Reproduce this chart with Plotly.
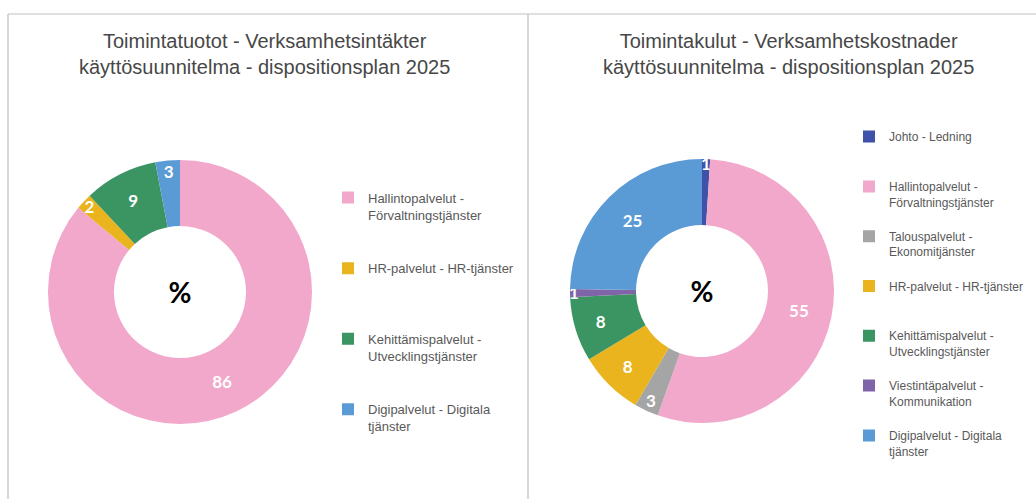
import plotly.graph_objects as go

# ---------------- data ----------------
left_title = "Toimintatuotot - Verksamhetsintäkter<br>käyttösuunnitelma - dispositionsplan 2025"
right_title = "Toimintakulut - Verksamhetskostnader<br>käyttösuunnitelma - dispositionsplan 2025"

left_labels = [
    "Hallintopalvelut -<br>Förvaltningstjänster",
    "HR-palvelut - HR-tjänster",
    "Kehittämispalvelut -<br>Utvecklingstjänster",
    "Digipalvelut - Digitala<br>tjänster",
]
left_values = [86, 2, 9, 3]
left_colors = ["#F2A8CB", "#E9B41E", "#3A9563", "#5B9BD5"]

right_labels = [
    "Johto - Ledning",
    "Hallintopalvelut -<br>Förvaltningstjänster",
    "Talouspalvelut -<br>Ekonomitjänster",
    "HR-palvelut - HR-tjänster",
    "Kehittämispalvelut -<br>Utvecklingstjänster",
    "Viestintäpalvelut -<br>Kommunikation",
    "Digipalvelut - Digitala<br>tjänster",
]
right_values = [1, 55, 3, 8, 8, 1, 25]
right_colors = ["#3F51A8", "#F2A8CB", "#A5A5A5", "#E9B41E", "#3A9563", "#8064A8", "#5B9BD5"]

W, H = 1036, 499


def pad(label, n):
    lines = label.count("<br>") + 1
    return label + "<br>\u00a0" * (n - lines)


def px_x(v):
    return v / W


def px_y(v):
    return 1 - v / H


fig = go.Figure()

label_font = dict(family="Lato", size=17, color="white", weight="bold")
center_font = dict(family="Lato", size=28, color="black", weight="bold")

fig.add_trace(go.Pie(
    labels=[pad(l, 4) for l in left_labels],
    values=left_values,
    marker=dict(colors=left_colors, line=dict(width=0)),
    hole=0.5,
    sort=False,
    direction="clockwise",
    rotation=0,
    texttemplate="%{value}",
    textposition="inside",
    insidetextorientation="horizontal",
    textfont=label_font,
    title=dict(text="%", position="middle center", font=center_font),
    domain=dict(x=[px_x(48), px_x(312)], y=[px_y(424), px_y(160)]),
    legend="legend",
    hoverinfo="label+value",
))

fig.add_trace(go.Pie(
    labels=[pad(l, 3) for l in right_labels],
    values=right_values,
    marker=dict(colors=right_colors, line=dict(width=0)),
    hole=0.5,
    sort=False,
    direction="clockwise",
    rotation=0,
    texttemplate="%{value}",
    textposition="inside",
    insidetextorientation="horizontal",
    textfont=label_font,
    title=dict(text="%", position="middle center", font=center_font),
    domain=dict(x=[px_x(570), px_x(834)], y=[px_y(423), px_y(159)]),
    legend="legend2",
    hoverinfo="label+value",
))

border = "#d6d6d6"
shapes = [
    dict(type="line", xref="paper", yref="paper", x0=px_x(8), x1=px_x(1036), y0=px_y(14), y1=px_y(14),
         line=dict(color=border, width=1.5)),
    dict(type="line", xref="paper", yref="paper", x0=px_x(8), x1=px_x(8), y0=px_y(14), y1=px_y(499),
         line=dict(color=border, width=2)),
    dict(type="line", xref="paper", yref="paper", x0=px_x(528), x1=px_x(528), y0=px_y(14), y1=px_y(499),
         line=dict(color=border, width=2)),
]

title_font = dict(family="Liberation Sans", size=20, color="#474747")
annotations = [
    dict(text=left_title, x=px_x(264), y=px_y(54), xref="paper", yref="paper", showarrow=False,
         xanchor="center", yanchor="middle", font=title_font, align="center"),
    dict(text=right_title, x=px_x(788), y=px_y(54), xref="paper", yref="paper", showarrow=False,
         xanchor="center", yanchor="middle", font=title_font, align="center"),
]

legend_common = dict(
    xanchor="left", yanchor="top", valign="top",
    bgcolor="rgba(0,0,0,0)", borderwidth=0, orientation="v",
)

fig.update_layout(
    width=W, height=H,
    margin=dict(l=0, r=0, t=0, b=0, autoexpand=False),
    paper_bgcolor="white",
    plot_bgcolor="white",
    showlegend=True,
    shapes=shapes,
    annotations=annotations,
    uniformtext=dict(minsize=17, mode="show"),
    legend=dict(x=px_x(328), y=px_y(182.6),
                font=dict(family="Liberation Sans", size=13, color="#595959"), **legend_common),
    legend2=dict(x=px_x(849), y=px_y(122.3),
                 font=dict(family="Liberation Sans", size=12, color="#595959"), **legend_common),
)

fig.write_html("out.html")
